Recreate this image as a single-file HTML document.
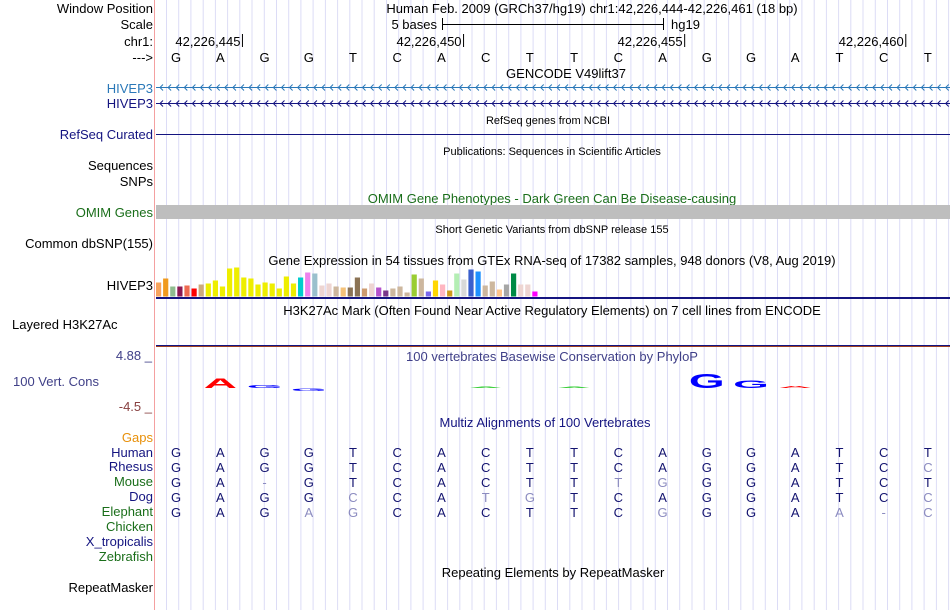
<!DOCTYPE html>
<html><head><meta charset="utf-8"><style>
body{margin:0;background:#fff;}
svg{display:block;font-family:"Liberation Sans",Arial,sans-serif;}
</style></head><body>
<svg id="c" width="950" height="610" viewBox="0 0 950 610">
<g id="grid"></g>
<line x1="154.5" y1="0" x2="154.5" y2="610" stroke="#f4a0a0" stroke-width="1"/>
<g font-size="13" fill="#000" text-anchor="end">
<text x="153" y="13">Window Position</text>
<text x="153" y="29">Scale</text>
<text x="153" y="46">chr1:</text>
<text x="153" y="62">---&gt;</text>
<text x="153" y="93" fill="#2a78b8">HIVEP3</text>
<text x="153" y="108" fill="#141480">HIVEP3</text>
<text x="153" y="139" fill="#141480">RefSeq Curated</text>
<text x="153" y="170">Sequences</text>
<text x="153" y="186">SNPs</text>
<text x="153" y="217" fill="#1a6e1a">OMIM Genes</text>
<text x="153" y="248">Common dbSNP(155)</text>
<text x="153" y="290">HIVEP3</text>
<text x="153" y="592">RepeatMasker</text>
<text x="153" y="442" fill="#e8900a">Gaps</text>
<text x="153" y="457" fill="#141480">Human</text>
<text x="153" y="471" fill="#141480">Rhesus</text>
<text x="153" y="486" fill="#1a6e1a">Mouse</text>
<text x="153" y="501" fill="#141480">Dog</text>
<text x="153" y="516" fill="#1a6e1a">Elephant</text>
<text x="153" y="531" fill="#1a6e1a">Chicken</text>
<text x="153" y="546" fill="#141480">X_tropicalis</text>
<text x="153" y="561" fill="#1a6e1a">Zebrafish</text>
</g>
<text x="12" y="329" font-size="13">Layered H3K27Ac</text>
<text x="13" y="386" font-size="13" fill="#404088">100 Vert. Cons</text>
<text x="152" y="360" font-size="13" fill="#404088" text-anchor="end">4.88 _</text>
<text x="152" y="411" font-size="13" fill="#884040" text-anchor="end">-4.5 _</text>

<g font-size="13" text-anchor="middle">
<text x="592" y="13">Human Feb. 2009 (GRCh37/hg19)   chr1:42,226,444-42,226,461 (18 bp)</text>
<text x="566" y="78">GENCODE V49lift37</text>
<text x="548" y="124" font-size="11">RefSeq genes from NCBI</text>
<text x="552" y="155" font-size="11">Publications: Sequences in Scientific Articles</text>
<text x="552" y="203" fill="#1a6e1a">OMIM Gene Phenotypes - Dark Green Can Be Disease-causing</text>
<text x="552" y="233" font-size="11">Short Genetic Variants from dbSNP release 155</text>
<text x="552" y="265">Gene Expression in 54 tissues from GTEx RNA-seq of 17382 samples, 948 donors (V8, Aug 2019)</text>
<text x="552" y="315">H3K27Ac Mark (Often Found Near Active Regulatory Elements) on 7 cell lines from ENCODE</text>
<text x="552" y="361" fill="#404088">100 vertebrates Basewise Conservation by PhyloP</text>
<text x="545" y="427" fill="#141480">Multiz Alignments of 100 Vertebrates</text>
<text x="553" y="577">Repeating Elements by RepeatMasker</text>
</g>
<g>
<text x="437" y="29" font-size="13" text-anchor="end">5 bases</text>
<line x1="442.5" y1="18" x2="442.5" y2="30" stroke="#000"/>
<line x1="663.5" y1="18" x2="663.5" y2="30" stroke="#000"/>
<line x1="442" y1="24.5" x2="664" y2="24.5" stroke="#000"/>
<text x="671" y="29" font-size="13">hg19</text>
</g>
<g id="ruler"></g>
<g id="bases" font-size="13" text-anchor="middle"></g>
<g id="genes"></g>
<rect x="156" y="205" width="794" height="14" fill="#bebebe"/>
<line x1="156" y1="134.5" x2="950" y2="134.5" stroke="#141480"/>
<g id="gtex"></g>
<rect x="156" y="297" width="794" height="2" fill="#141480"/>
<rect x="156" y="345" width="794" height="1" fill="#141480"/>
<rect x="156" y="346" width="794" height="1" fill="#a04020"/>
<g id="logo"></g>
<g id="aln" font-size="13" text-anchor="middle"></g>
</svg>
<script>
const NS='http://www.w3.org/2000/svg';
const svg=document.getElementById('c');
const refBases="GAGGTCACTTCAGGATCT";
const rulerLabels=["42,226,445","42,226,450","42,226,455","42,226,460"];
const rulerBaseIdx=[1,6,11,16];
const gtexValues=[14,18,10,10,11,8,12,13,16,10,28,29,19,18,12,14,13,8,20,13,19,24,23,11,13,10,9,9,19,8,13,9,6,8,10,4,22,18,5,16,12,6,23,17,27,25,11,15,7,12,23,12,12,5];
const gtexColors=["#f7a35c","#f09a1e","#8fbc8f","#8b1a52","#ee6a50","#ff0000","#cdaa7d","#eeee00","#eeee00","#eeee00","#eeee00","#eeee00","#eeee00","#eeee00","#eeee00","#eeee00","#eeee00","#eeee00","#eeee00","#eeee00","#00cdcd","#ee82ee","#9ac0cd","#eed5d2","#eed5d2","#cdb79e","#f4c27a","#8b7355","#8b7355","#cd9b6f","#eed5d2","#b452cd","#7a378b","#cdb79e","#cdb79e","#cdb79e","#9acd32","#cdb79e","#7b68ee","#ffd700","#ffb6c1","#cd9b1d","#b4eeb4","#d9d9d9","#3a5fcd","#1e90ff","#cdb79e","#cdb79e","#ffc48a","#a6a6a6","#008b45","#eed5d2","#eed5d2","#ff00ff"];
const consLetters=["A","G","G","A","A","G","G","A"];
const consIdx=[1,2,3,7,9,12,13,14];
const consValues=[10,3,2.5,1,1,15,8,2];
const consColors=["#ff0000","#0000ff","#0000ff","#33cc33","#33cc33","#0000ff","#0000ff","#ff0000"];
const species=["Human","Rhesus","Mouse","Dog","Elephant"];
const alnRows=["GAGGTCACTTCAGGATCT","GAGGTCACTTCAGGATCc","GA-GTCACTTtgGGATCT","GAGGcCAtgTCAGGATCc","GAGagCACTTCgGGAa-c"];
const alnLight=[[],[17],[2,10,11],[4,7,8,17],[3,4,11,15,16,17]];
const x0=154, bw=(950-154)/18;
const bx=i=>x0+bw/2+i*bw;
function el(t,a,p){const e=document.createElementNS(NS,t);for(const k in a)e.setAttribute(k,a[k]);(p||svg).appendChild(e);return e;}
const grid=document.getElementById('grid');
for(let x=166.5;x<950;x+=12.22){const l=el('line',{x1:x.toFixed(1),y1:0,x2:x.toFixed(1),y2:610,stroke:'#dcdcf6'},grid);

}
const ruler=document.getElementById('ruler');
rulerLabels.forEach((s,k)=>{const x=bx(rulerBaseIdx[k])+bw/2;
const l=el('line',{x1:x,y1:34,x2:x,y2:47,stroke:'#000'},ruler);


const t=el('text',{x:x-2,y:46,'font-size':13,'text-anchor':'end'},ruler);t.textContent=s;

});
const bases=document.getElementById('bases');
[...refBases].forEach((b,i)=>{const t=el('text',{x:bx(i),y:62},bases);t.textContent=b;

});
const genes=document.getElementById('genes');
[[87.5,'#2a78b8'],[103.5,'#141480']].forEach(([y,c])=>{
const l=el('line',{x1:156,y1:y,x2:950,y2:y,stroke:c},genes);


let d='';for(let x=160;x<948;x+=8.1){d+=`M${(x+3).toFixed(1)} ${y-3}L${x.toFixed(1)} ${y}L${(x+3).toFixed(1)} ${y+3}`;}
const p=el('path',{d,stroke:c,fill:'none','stroke-width':1},genes);

});
const gtex=document.getElementById('gtex');
const gBase=296.5, gStep=7.1;
gtexValues.forEach((v,i)=>{const r=el('rect',{x:(156+i*gStep).toFixed(1),y:gBase-v,width:5.2,height:v,fill:gtexColors[i]},gtex);

});
const logo=document.getElementById('logo');
consLetters.forEach((L,k)=>{const h=consValues[k];const x=bx(consIdx[k]);const base=k==2?391:388;
const t=el('text',{x:0,y:0,'font-size':20,'font-weight':'bold','text-anchor':'middle',fill:consColors[k],
transform:`translate(${x.toFixed(1)},${base}) scale(2.3,${(h/14.5).toFixed(3)})`},logo);t.textContent=L;

});
const aln=document.getElementById('aln');
alnRows.forEach((row,r)=>{[...row].forEach((b,i)=>{const light=alnLight[r].includes(i);
const t=el('text',{x:bx(i),y:457+r*15,fill:light?'#8c8cc0':'#141470'},aln);t.textContent=b.toUpperCase();

});});
</script>
</body></html>
